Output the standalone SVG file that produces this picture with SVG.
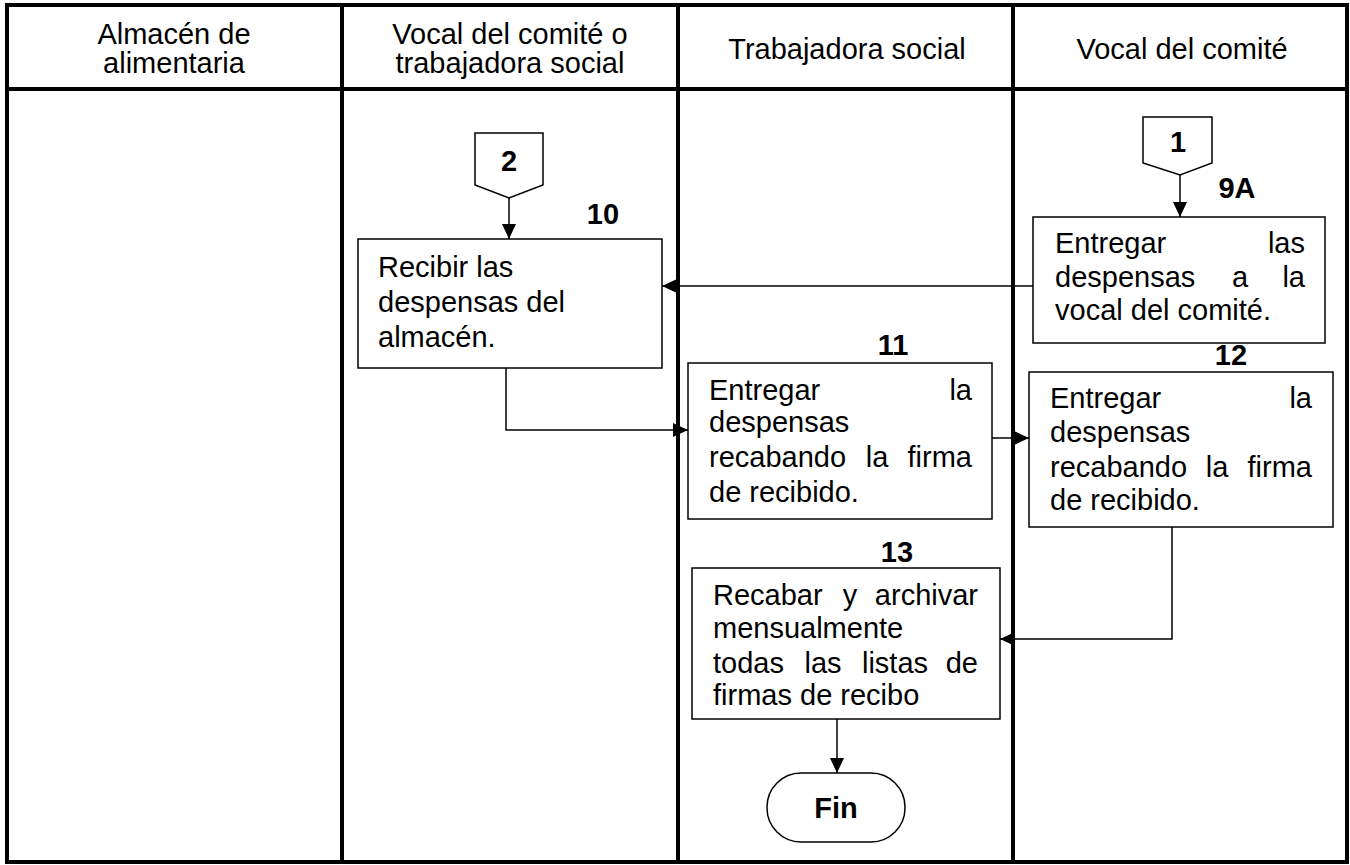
<svg xmlns="http://www.w3.org/2000/svg" width="1350" height="865" viewBox="0 0 1350 865">
<style>
  .t{font-family:"Liberation Sans",Arial,sans-serif;font-size:29px;fill:#000}
  .c{text-anchor:middle}
  .e{text-anchor:end}
  .b{font-weight:bold}
  .grid{stroke:#000;stroke-width:4;fill:none}
  .box{fill:#fff;stroke:#000;stroke-width:1.5}
  .con{fill:none;stroke:#000;stroke-width:1.5}
</style>
<defs>
  <marker id="ah" markerUnits="userSpaceOnUse" markerWidth="16" markerHeight="16" refX="15" refY="8" orient="auto">
    <path d="M0,1 L15,8 L0,15 Z" fill="#000"/>
  </marker>
</defs>
<rect width="1350" height="865" fill="#fff"/>
<g id="table">
  <rect class="grid" x="7" y="5" width="1340" height="857"/>
  <line class="grid" x1="7" y1="89" x2="1347" y2="89"/>
  <line class="grid" x1="342" y1="5" x2="342" y2="862"/>
  <line class="grid" x1="678" y1="5" x2="678" y2="862"/>
  <line class="grid" x1="1013" y1="5" x2="1013" y2="862"/>
  <text class="t c" x="174" y="44">Almacén de</text>
  <text class="t c" x="174" y="73">alimentaria</text>
  <text class="t c" x="510" y="44">Vocal del comité o</text>
  <text class="t c" x="510" y="73">trabajadora social</text>
  <text class="t c" x="847" y="59">Trabajadora social</text>
  <text class="t c" x="1182" y="59">Vocal del comité</text>
</g>
<g id="connectors">
  <line class="con" x1="509" y1="198" x2="509" y2="239" marker-end="url(#ah)"/>
  <line class="con" x1="1180" y1="175" x2="1180" y2="217" marker-end="url(#ah)"/>
  <line class="con" x1="1033" y1="286" x2="662" y2="286" marker-end="url(#ah)"/>
  <path class="con" d="M506,368 V430 H688" marker-end="url(#ah)"/>
  <line class="con" x1="992" y1="438" x2="1029" y2="438" marker-end="url(#ah)"/>
  <path class="con" d="M1172,527 V639 H1000" marker-end="url(#ah)"/>
  <line class="con" x1="837" y1="719" x2="837" y2="773" marker-end="url(#ah)"/>
</g>
<g id="conn2">
  <polygon class="box" points="475,133 543,133 543,185 509,198 475,185"/>
  <text class="t c b" x="509" y="171">2</text>
</g>
<g id="conn1">
  <polygon class="box" points="1143,117 1212,117 1212,163 1180,175 1143,163"/>
  <text class="t c b" x="1178" y="152">1</text>
</g>
<g id="step10">
  <text class="t c b" x="603" y="224">10</text>
  <rect class="box" x="358" y="239" width="304" height="129"/>
  <text class="t" x="378" y="277">Recibir las</text>
  <text class="t" x="378" y="312">despensas del</text>
  <text class="t" x="378" y="347">almacén.</text>
</g>
<g id="step9A">
  <text class="t c b" x="1237" y="198">9A</text>
  <rect class="box" x="1033" y="217" width="292" height="126"/>
  <text class="t" x="1055" y="253">Entregar</text>
  <text class="t e" x="1305" y="253">las</text>
  <text class="t" x="1055" y="287">despensas</text>
  <text class="t c" x="1240" y="287">a</text>
  <text class="t e" x="1305" y="287">la</text>
  <text class="t" x="1055" y="320">vocal del comité.</text>
</g>
<g id="step11">
  <text class="t c b" x="893" y="355">11</text>
  <rect class="box" x="688" y="363" width="304" height="156"/>
  <text class="t" x="709" y="400">Entregar</text>
  <text class="t e" x="972" y="400">la</text>
  <text class="t" x="709" y="432">despensas</text>
  <text class="t" x="709" y="467">recabando</text>
  <text class="t c" x="877" y="467">la</text>
  <text class="t e" x="972" y="467">firma</text>
  <text class="t" x="709" y="502">de recibido.</text>
</g>
<g id="step12">
  <text class="t c b" x="1231" y="365">12</text>
  <rect class="box" x="1029" y="372" width="304" height="155"/>
  <text class="t" x="1050" y="408">Entregar</text>
  <text class="t e" x="1312" y="408">la</text>
  <text class="t" x="1050" y="442">despensas</text>
  <text class="t" x="1050" y="477">recabando</text>
  <text class="t c" x="1217" y="477">la</text>
  <text class="t e" x="1312" y="477">firma</text>
  <text class="t" x="1050" y="510">de recibido.</text>
</g>
<g id="step13">
  <text class="t c b" x="897" y="562">13</text>
  <rect class="box" x="692" y="568" width="308" height="151"/>
  <text class="t" x="713" y="605">Recabar</text>
  <text class="t c" x="850" y="605">y</text>
  <text class="t e" x="978" y="605">archivar</text>
  <text class="t" x="713" y="638">mensualmente</text>
  <text class="t" x="713" y="673">todas</text>
  <text class="t c" x="823" y="673">las</text>
  <text class="t c" x="895" y="673">listas</text>
  <text class="t e" x="978" y="673">de</text>
  <text class="t" x="713" y="705">firmas de recibo</text>
</g>
<g id="fin">
  <rect class="box" x="767" y="773" width="138" height="69" rx="34" ry="34"/>
  <text class="t c b" x="836" y="818">Fin</text>
</g>
</svg>
